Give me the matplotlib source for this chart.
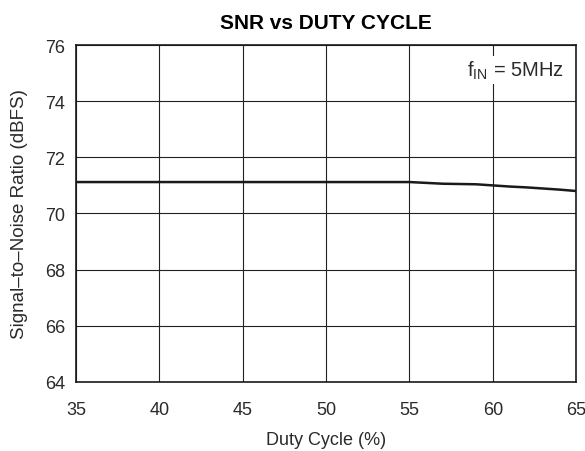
import matplotlib.pyplot as plt

plt.rcParams['font.family'] = ['Liberation Sans', 'DejaVu Sans']

duty = [35, 40, 45, 50, 55, 56, 57, 58, 59, 60, 61, 62, 63, 64, 65]
snr = [71.12, 71.12, 71.12, 71.12, 71.12, 71.09, 71.06, 71.05, 71.04,
       71.0, 70.96, 70.93, 70.89, 70.85, 70.80]

xticks = [35, 40, 45, 50, 55, 60, 65]
yticks = [64, 66, 68, 70, 72, 74, 76]

fig = plt.figure(figsize=(5.85, 4.52), dpi=100)
ax = fig.add_axes([0.130, 0.153, 0.855, 0.745])

ax.plot(duty, snr, color='#1a1a1a', linewidth=1.8)

ax.set_xlim(35, 65)
ax.set_ylim(64, 76)
ax.set_xticks(xticks)
ax.set_yticks(yticks)
ax.grid(True, color='#222222', linewidth=0.8)
ax.tick_params(length=0, labelsize=13, colors='#2a2a2a')
ax.tick_params(axis='x', pad=14)
ax.tick_params(axis='y', pad=8)
for s in ax.spines.values():
    s.set_linewidth(1.2)
    s.set_color('#1a1a1a')

ax.set_xlabel("Duty Cycle (%)", fontsize=13, labelpad=9, color='#2a2a2a')
ax.set_ylabel("Signal\u2013to\u2013Noise Ratio (dBFS)", fontsize=13.5, labelpad=12,
              color='#2a2a2a')
ax.set_title("SNR vs DUTY CYCLE", fontsize=15, fontweight='bold', pad=12)

ax.text(0.975, 0.96, r"f$_{\mathregular{IN}}$ = 5MHz", transform=ax.transAxes,
        ha='right', va='top', fontsize=14.5, color='#2a2a2a',
        bbox=dict(facecolor='white', edgecolor='none', pad=2))

fig.savefig("out.png", dpi=100)
